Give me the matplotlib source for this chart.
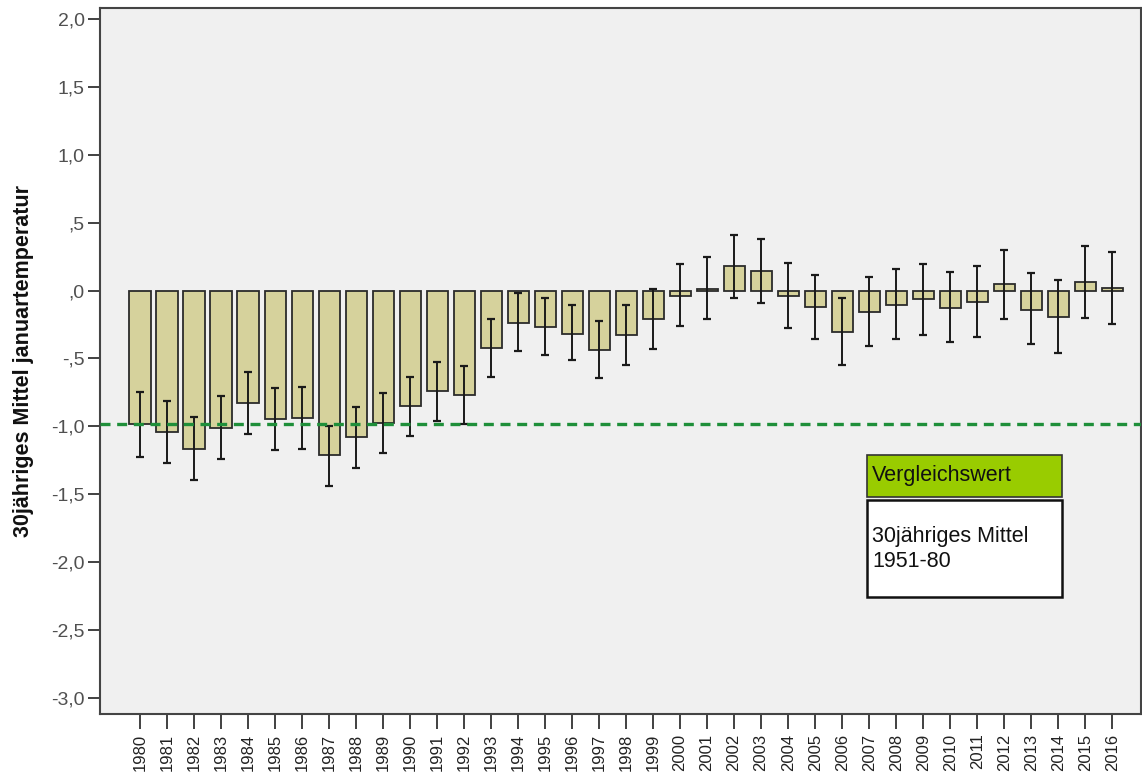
import numpy as np
import matplotlib
matplotlib.use('Agg')
import matplotlib.pyplot as plt
from matplotlib.patches import Rectangle

plt.rcParams['font.family'] = ['Liberation Sans', 'DejaVu Sans']

years = list(range(1980, 2017))
means = [-0.98, -1.04, -1.165, -1.01, -0.83, -0.945, -0.94, -1.21, -1.075, -0.975,
         -0.852, -0.74, -0.77, -0.425, -0.236, -0.265, -0.317, -0.437, -0.329, -0.211,
         -0.037, 0.012, 0.179, 0.142, -0.037, -0.123, -0.304, -0.159, -0.106, -0.066,
         -0.125, -0.083, 0.049, -0.14, -0.196, 0.064, 0.015]
ci_low = [-1.222, -1.272, -1.397, -1.24, -1.056, -1.173, -1.168, -1.436, -1.303, -1.196,
          -1.068, -0.957, -0.982, -0.633, -0.447, -0.471, -0.515, -0.641, -0.545, -0.432,
          -0.258, -0.209, -0.054, -0.094, -0.275, -0.358, -0.55, -0.412, -0.358, -0.324,
          -0.376, -0.339, -0.206, -0.393, -0.462, -0.199, -0.245]
ci_high = [-0.746, -0.81, -0.928, -0.776, -0.599, -0.717, -0.712, -0.997, -0.854, -0.756,
           -0.638, -0.528, -0.555, -0.211, -0.02, -0.057, -0.11, -0.221, -0.108, 0.01,
           0.194, 0.245, 0.407, 0.38, 0.204, 0.118, -0.052, 0.096, 0.16, 0.194,
           0.135, 0.177, 0.302, 0.127, 0.074, 0.331, 0.287]
reference = -0.98
ytick_vals = [2.0, 1.5, 1.0, 0.5, 0.0, -0.5, -1.0, -1.5, -2.0, -2.5, -3.0]
ytick_labels = ['2,0', '1,5', '1,0', ',5', ',0', '-,5', '-1,0', '-1,5', '-2,0', '-2,5', '-3,0']

means = np.array(means)
yerr = np.vstack([means - np.array(ci_low), np.array(ci_high) - means])
x = np.arange(len(years))

fig = plt.figure(figsize=(11.42, 7.72), dpi=100)
ax = fig.add_axes([0.0876, 0.0751, 0.9116, 0.9145])
ax.set_facecolor('#f0f0f0')

ax.bar(x, means, width=0.78, color='#d6d29c', edgecolor='#2b2b2b', linewidth=1.3, zorder=2)
ax.errorbar(x, means, yerr=yerr, fmt='none', ecolor='#1a1a1a', elinewidth=1.4,
            capsize=3, capthick=1.6, zorder=3)
ax.axhline(reference, color='#1f8f3a', linestyle=(0, (3, 2)), linewidth=2.4, zorder=4)

ax.set_xlim(-1.48, 37.07)
ax.set_ylim(-3.118, 2.08)
ax.set_yticks(ytick_vals)
ax.set_yticklabels(ytick_labels, fontsize=14, color='#505050')
ax.set_xticks(x)
ax.set_xticklabels([str(y) for y in years], rotation=90, fontsize=12, color='#222222')
ax.tick_params(axis='y', length=9, width=1.3, color='#333333', pad=2)
ax.tick_params(axis='x', length=11, width=1.3, color='#333333', pad=3)
for s in ax.spines.values():
    s.set_color('#444444')
    s.set_linewidth(1.5)

fig.text(0.021, 1 - 361 / 772, '30jähriges Mittel januartemperatur', rotation=90, ha='center',
         va='center', fontsize=15.5, fontweight='bold', color='#111111')

# legend-like annotation boxes
W, H = 1142.0, 772.0
fig.add_artist(Rectangle((867 / W, 1 - 497 / H), 195 / W, 42 / H, transform=fig.transFigure,
                         facecolor='#99cc00', edgecolor='#333333', linewidth=1.2))
fig.text(872 / W, 1 - 475 / H, 'Vergleichswert', fontsize=15.5, va='center', ha='left',
         color='#111111')
fig.add_artist(Rectangle((867 / W, 1 - 597 / H), 195 / W, 97 / H, transform=fig.transFigure,
                         facecolor='white', edgecolor='#111111', linewidth=1.8))
fig.text(872 / W, 1 - 549 / H, '30jähriges Mittel\n1951-80', fontsize=15.5, va='center',
         ha='left', color='#111111', linespacing=1.2)

fig.savefig('out.png', dpi=100, facecolor='white')
